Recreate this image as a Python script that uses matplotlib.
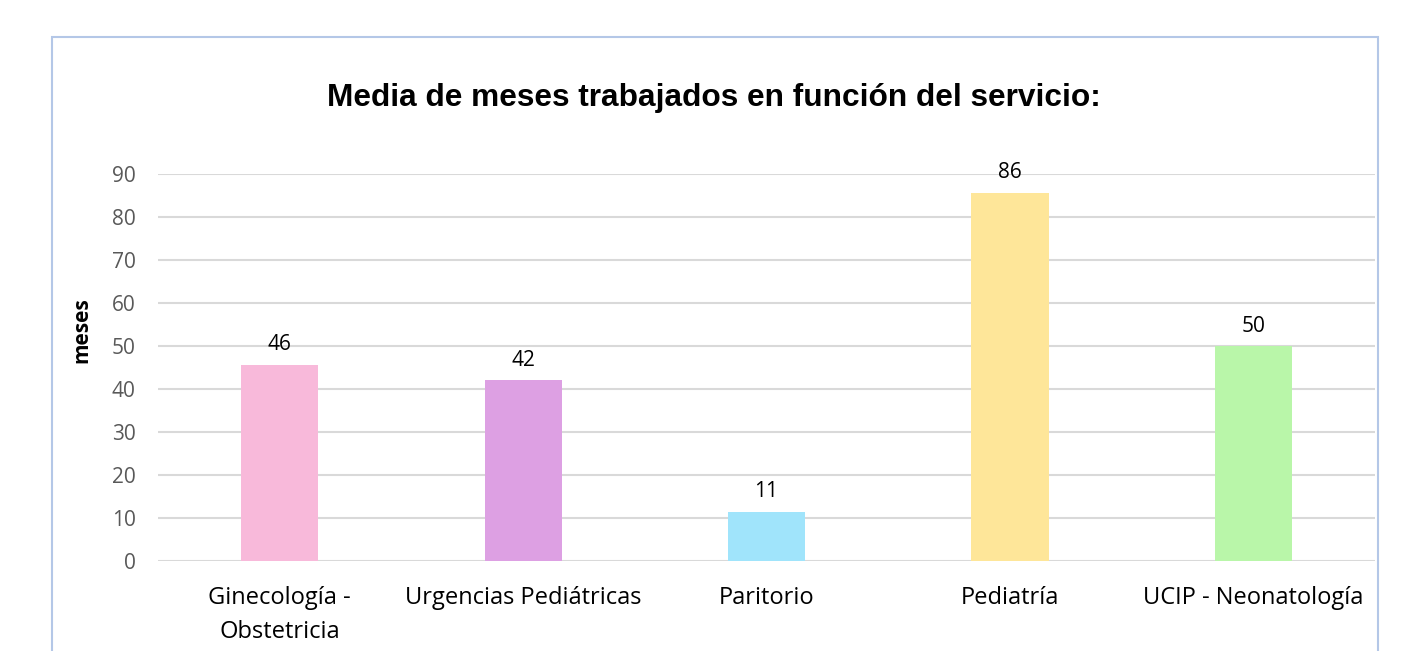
import matplotlib.pyplot as plt
from matplotlib.patches import Rectangle

# Datos del gráfico
servicios = ['Ginecología -\nObstetricia', 'Urgencias Pediátricas', 'Paritorio',
             'Pediatría', 'UCIP - Neonatología']
meses = [45.7, 42.0, 11.4, 85.7, 49.9]
colores = ['#f8b9da', '#dda0e3', '#a0e4fb', '#fee699', '#b9f6a9']
yticks = [0, 10, 20, 30, 40, 50, 60, 70, 80, 90]

plt.rcParams['font.family'] = ['Open Sans', 'DejaVu Sans']

fig = plt.figure(figsize=(14.07, 6.51), dpi=100)
ax = fig.add_axes([0.1123, 0.1382, 0.865, 0.5945])

# borde del gráfico
fig.patches.append(Rectangle((52 / 1407, -0.1), 1326 / 1407, 1 - 37 / 651 + 0.1,
                             transform=fig.transFigure, fill=False,
                             edgecolor='#b4c7e7', linewidth=1.5))

bars = ax.bar(range(len(servicios)), meses, width=0.317, color=colores, zorder=3)

for b, v in zip(bars, meses):
    ax.annotate('%.0f' % v, (b.get_x() + b.get_width() / 2, v),
                xytext=(0, 7), textcoords='offset points',
                ha='center', va='bottom', fontsize=15, color='black')

ax.set_xlim(-0.5, 4.5)
ax.set_ylim(0, 90)
ax.set_yticks(yticks)
ax.set_xticks(range(len(servicios)))
ax.set_xticklabels(servicios, fontsize=17, color='black', linespacing=1.55)
ax.tick_params(axis='y', labelsize=15, labelcolor='#595959', length=0, pad=16)
ax.tick_params(axis='x', length=0, pad=18)
ax.yaxis.grid(True, color='#d9d9d9', linewidth=1.5, zorder=0)
for s in ax.spines.values():
    s.set_visible(False)

fig.text(0.5075, 1 - 98 / 651, 'Media de meses trabajados en función del servicio:',
         ha='center', va='center', fontsize=22.8, fontweight='bold',
         family=['Liberation Sans', 'DejaVu Sans'])
fig.text(82 / 1407, 1 - 330 / 651, 'meses', rotation=90, ha='center', va='center',
         fontsize=15, fontweight='bold')

fig.savefig('out.png', dpi=100)
